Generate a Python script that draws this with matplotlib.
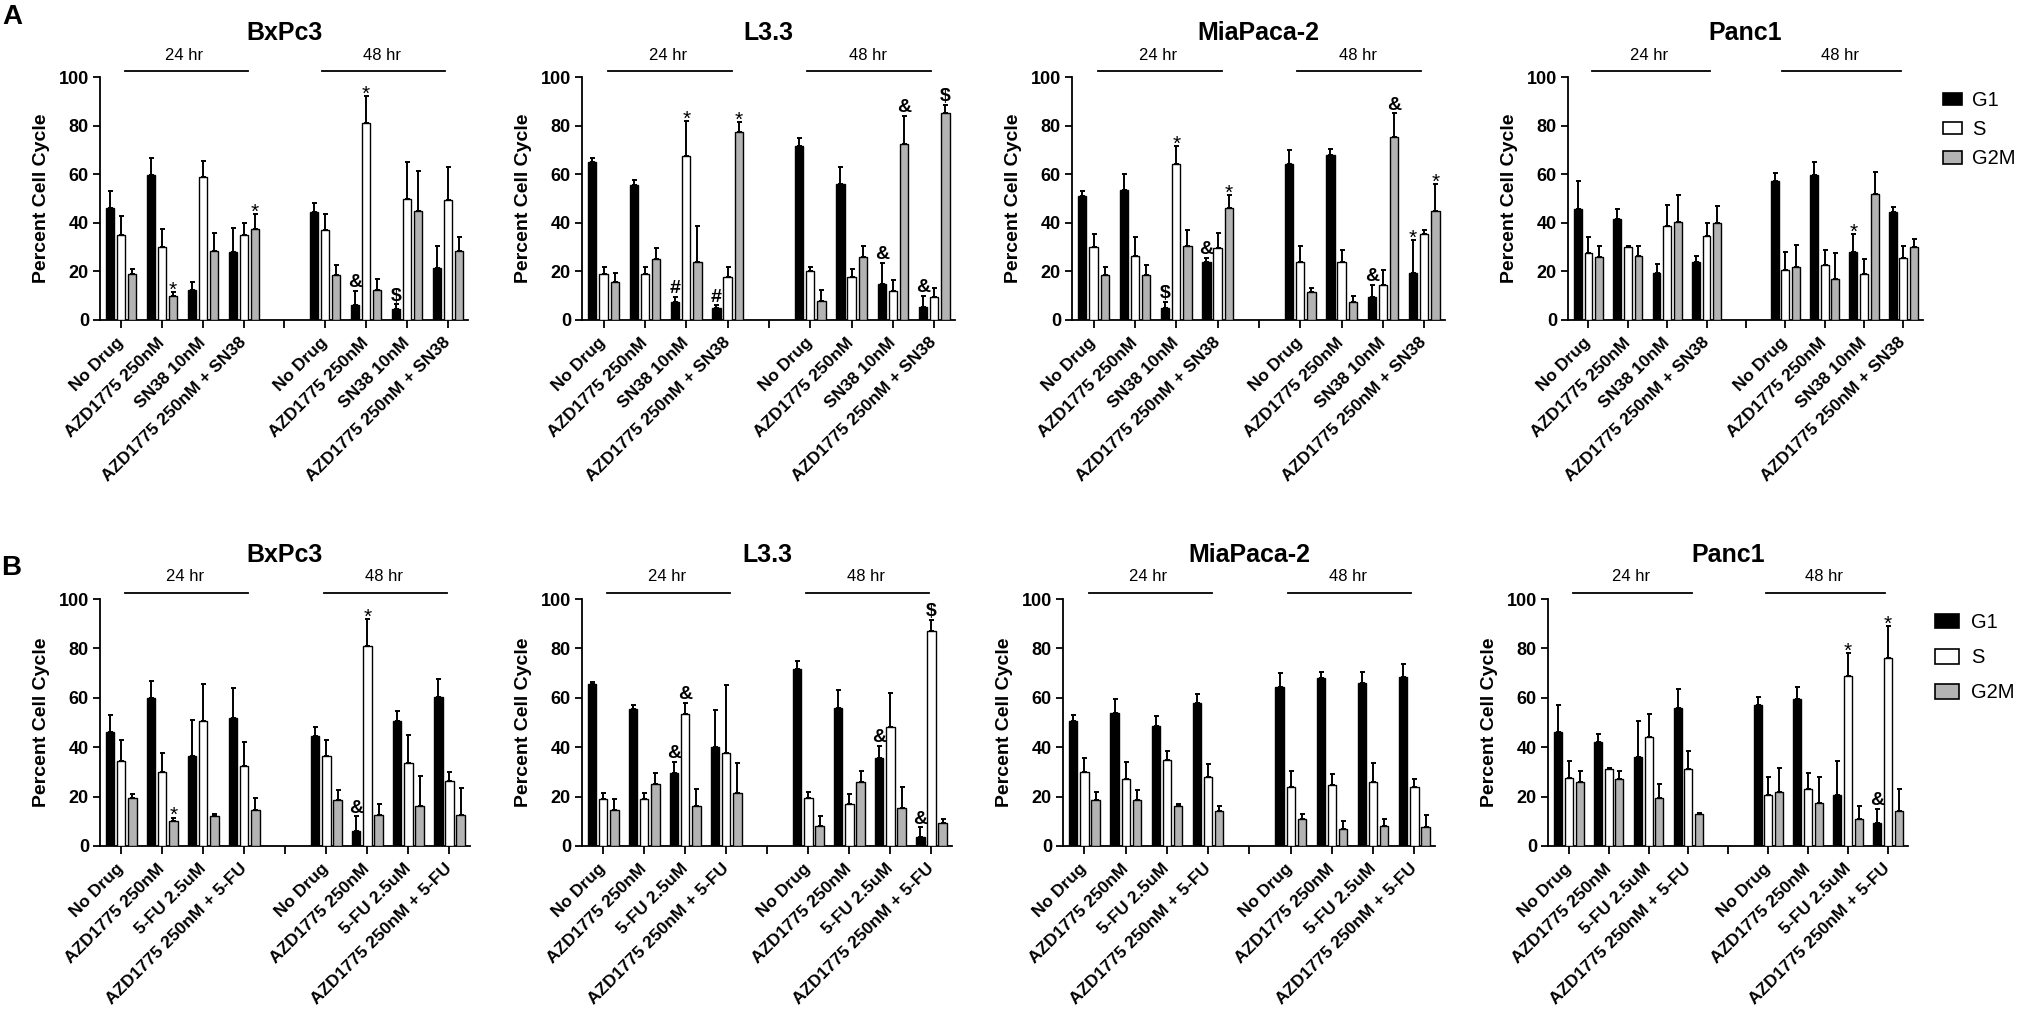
import numpy as np
import matplotlib
matplotlib.use('Agg')
import matplotlib.pyplot as plt
from matplotlib.patches import Patch

plt.rcParams['font.family'] = ['Liberation Sans', 'DejaVu Sans']

conds_a = ['No Drug', 'AZD1775 250nM', 'SN38 10nM', 'AZD1775 250nM + SN38']
conds_b = ['No Drug', 'AZD1775 250nM', '5-FU 2.5uM', 'AZD1775 250nM + 5-FU']
phases = ['G1', 'S', 'G2M']

# Panel A (SN38), 24 hr groups then 48 hr groups
bx_a_g1 = [46, 59.5, 12.5, 28, 44.5, 6, 4.5, 21.5]
bx_a_g1e = [7, 7, 3, 10, 3.5, 6, 2, 9]
bx_a_s = [35, 30, 59, 35, 37, 81, 50, 49.5]
bx_a_se = [8, 7.5, 6.5, 5, 6.5, 11, 15, 13.5]
bx_a_g2m = [19, 10, 28.5, 37.5, 18.5, 12.5, 45, 28.5]
bx_a_g2me = [2, 1.5, 7.5, 6, 4, 4.5, 16.5, 5.5]
bx_a_marks = [(1, 2, '*'), (3, 2, '*'), (5, 0, '&'), (5, 1, '*'), (6, 0, '$')]

l3_a_g1 = [65, 55.5, 7.5, 5, 71.5, 56, 15, 5.5]
l3_a_g1e = [1.5, 2, 2, 1, 3.5, 7, 8.5, 4.5]
l3_a_s = [19, 19, 67.5, 17.5, 20, 17.5, 12, 9.5]
l3_a_se = [3, 3, 14.5, 4.5, 2, 3.5, 4.5, 3.5]
l3_a_g2m = [15.5, 25, 24, 77.5, 8, 26, 72.5, 85]
l3_a_g2me = [4, 4.5, 14.5, 4, 4.5, 4.5, 11.5, 3.5]
l3_a_marks = [(2, 0, '#'), (2, 1, '*'), (3, 0, '#'), (3, 2, '*'),
              (6, 0, '&'), (6, 2, '&'), (7, 0, '&'), (7, 2, '$')]

mia_a_g1 = [51, 53.5, 5, 24, 64, 68, 9.5, 19.5]
mia_a_g1e = [2, 6.5, 2.5, 1.5, 6, 2.5, 5, 13.5]
mia_a_s = [30, 26.5, 64, 29.5, 24, 24, 14.5, 35.5]
mia_a_se = [5.5, 7.5, 7.5, 6.5, 6.5, 5, 6, 1.5]
mia_a_g2m = [18.5, 18.5, 30.5, 46, 11.5, 7.5, 75.5, 45]
mia_a_g2me = [3.5, 4, 6.5, 5.5, 1.5, 2.5, 9.5, 11]
mia_a_marks = [(2, 0, '$'), (2, 1, '*'), (3, 0, '&'), (3, 2, '*'),
               (6, 0, '&'), (6, 2, '&'), (7, 0, '*'), (7, 2, '*')]

pc_a_g1 = [45.5, 41.5, 19.5, 24, 57, 59.5, 28, 44.5]
pc_a_g1e = [11.5, 4, 3.5, 2.5, 3.5, 5.5, 7.5, 2]
pc_a_s = [27.5, 30, 38.5, 34.5, 20.5, 22.5, 19, 25.5]
pc_a_se = [6.5, 0.5, 9, 5.5, 7.5, 6.5, 6, 5]
pc_a_g2m = [26, 26.5, 40.5, 40, 22, 17, 52, 30]
pc_a_g2me = [4.5, 4, 11, 7, 9, 10.5, 9, 3.5]
pc_a_marks = [(6, 0, '*')]

# Panel B (5-FU)
bx_b_g1 = [46, 60, 36.5, 52, 44.5, 6, 50.5, 60.5]
bx_b_g1e = [7, 7, 14.5, 12, 3.5, 6, 4, 7]
bx_b_s = [34.5, 30, 50.5, 32.5, 36.5, 81, 33.5, 26.5]
bx_b_se = [8.5, 7.5, 15, 9.5, 6.5, 11, 11.5, 3.5]
bx_b_g2m = [19.5, 10, 12, 14.5, 18.5, 12.5, 16, 12.5]
bx_b_g2me = [1.5, 1.5, 1, 5, 4, 4.5, 12.5, 11]
bx_b_marks = [(1, 2, '*'), (5, 0, '&'), (5, 1, '*')]

l3_b_g1 = [65.5, 55.5, 29.5, 40, 71.5, 56, 35.5, 3.5]
l3_b_g1e = [1, 1.5, 4.5, 15, 3.5, 7, 5, 4]
l3_b_s = [19, 19, 53.5, 37.5, 19.5, 17, 48, 87]
l3_b_se = [2.5, 2.5, 4.5, 27.5, 2.5, 4, 14, 4.5]
l3_b_g2m = [14.5, 25, 16, 21.5, 8, 26, 15.5, 9.5]
l3_b_g2me = [4.5, 4.5, 7, 12, 4, 4.5, 8.5, 1.5]
l3_b_marks = [(2, 0, '&'), (2, 1, '&'), (6, 0, '&'), (7, 0, '&'), (7, 1, '$')]

mia_b_g1 = [50.5, 54, 48.5, 58, 64.5, 68, 66, 68.5]
mia_b_g1e = [2.5, 5.5, 4, 3.5, 5.5, 2.5, 4.5, 5]
mia_b_s = [30, 27, 35, 28, 24, 24.5, 26, 24]
mia_b_se = [5.5, 7, 3.5, 5, 6.5, 4.5, 7.5, 3]
mia_b_g2m = [18.5, 18.5, 16, 14, 11, 7, 8, 7.5]
mia_b_g2me = [3.5, 4, 1, 2, 2, 3, 3, 5]
mia_b_marks = []

pc_b_g1 = [46, 42, 36, 56, 57, 59.5, 20.5, 9.5]
pc_b_g1e = [11, 3.5, 14.5, 7.5, 3.5, 5, 14, 5.5]
pc_b_s = [27.5, 31, 44, 31, 20.5, 23, 69, 76]
pc_b_se = [7, 0.5, 9.5, 7.5, 7.5, 6.5, 9, 13]
pc_b_g2m = [26, 27, 19.5, 13, 22, 17.5, 11, 14]
pc_b_g2me = [4.5, 3.5, 5.5, 0.5, 9.5, 10.5, 5, 9]
pc_b_marks = [(6, 1, '*'), (7, 0, '&'), (7, 1, '*')]

pos = np.array([0, 1, 2, 3, 5, 6, 7, 8])
colors = ['black', 'white', '#b3b3b3']

W, H = 2027, 1024
fig = plt.figure(figsize=(W / 100, H / 100), dpi=100)


def make_ax(x0, x1, ytop, ybot):
    return fig.add_axes([x0 / W, 1 - ybot / H, (x1 - x0) / W, (ybot - ytop) / H])


def draw(ax, name, conds, g1, g1e, s, se, g2m, g2me, marks, wpx):
    vals = [g1, s, g2m]
    errs = [g1e, se, g2me]
    for k in range(3):
        x = pos + (k - 1) * 0.27
        ax.bar(x, vals[k], 0.2, color=colors[k], edgecolor='black', linewidth=1.0, zorder=3)
        ax.errorbar(x, vals[k], yerr=[np.zeros(8), errs[k]], fmt='none', ecolor='black',
                    elinewidth=1.4, capsize=1.8, capthick=1.4, zorder=2)
    for g, k, sym in marks:
        top = vals[k][g] + errs[k][g]
        x = pos[g] + (k - 1) * 0.27
        if sym == '*':
            ax.text(x, top - 1.5, sym, ha='center', va='baseline', fontsize=15, clip_on=False)
        else:
            ax.text(x, top + 1.5, sym, ha='center', va='baseline', fontsize=14,
                    fontweight='bold', clip_on=False)

    ax.set_xlim(-0.52, 8.5)
    ax.set_ylim(0, 100)
    ax.set_yticks([0, 20, 40, 60, 80, 100])
    ax.set_yticklabels(['0', '20', '40', '60', '80', '100'], fontsize=13, fontweight='bold')
    ax.set_xticks(range(9))
    ax.set_xticklabels(conds + [''] + conds, rotation=45, ha='right', va='center',
                       rotation_mode='anchor', fontsize=12.5, fontweight='bold')
    ax.tick_params(axis='x', length=5.5, width=1.3, pad=9)
    ax.tick_params(axis='y', length=5, width=1.3, pad=3)
    for sp in ['top', 'right']:
        ax.spines[sp].set_visible(False)
    for sp in ['left', 'bottom']:
        ax.spines[sp].set_linewidth(1.3)
    ax.set_ylabel('Percent Cell Cycle', fontsize=14, fontweight='bold')
    ax.yaxis.set_label_coords(-50 / wpx, 0.5)

    # time point brackets
    ax.plot([0.1, 3.1], [102.5, 102.5], color='black', lw=1.3, clip_on=False)
    ax.plot([4.93, 7.93], [102.5, 102.5], color='black', lw=1.3, clip_on=False)
    ax.text(1.55, 109, '24 hr', ha='center', va='center', fontsize=12, clip_on=False)
    ax.text(6.4, 109, '48 hr', ha='center', va='center', fontsize=12, clip_on=False)
    ax.text(0.5, 1.18, name, transform=ax.transAxes, ha='center', va='center',
            fontsize=18, fontweight='bold')


xa = [(100, 468), (582, 955), (1072, 1445), (1568, 1923)]
xb = [(100, 470), (582, 952), (1063, 1435), (1548, 1908)]

panels_a = [
    ('BxPc3', bx_a_g1, bx_a_g1e, bx_a_s, bx_a_se, bx_a_g2m, bx_a_g2me, bx_a_marks),
    ('L3.3', l3_a_g1, l3_a_g1e, l3_a_s, l3_a_se, l3_a_g2m, l3_a_g2me, l3_a_marks),
    ('MiaPaca-2', mia_a_g1, mia_a_g1e, mia_a_s, mia_a_se, mia_a_g2m, mia_a_g2me, mia_a_marks),
    ('Panc1', pc_a_g1, pc_a_g1e, pc_a_s, pc_a_se, pc_a_g2m, pc_a_g2me, pc_a_marks),
]
panels_b = [
    ('BxPc3', bx_b_g1, bx_b_g1e, bx_b_s, bx_b_se, bx_b_g2m, bx_b_g2me, bx_b_marks),
    ('L3.3', l3_b_g1, l3_b_g1e, l3_b_s, l3_b_se, l3_b_g2m, l3_b_g2me, l3_b_marks),
    ('MiaPaca-2', mia_b_g1, mia_b_g1e, mia_b_s, mia_b_se, mia_b_g2m, mia_b_g2me, mia_b_marks),
    ('Panc1', pc_b_g1, pc_b_g1e, pc_b_s, pc_b_se, pc_b_g2m, pc_b_g2me, pc_b_marks),
]

handles = [Patch(facecolor=c, edgecolor='black', linewidth=1.2) for c in colors]

for (x0, x1), p in zip(xa, panels_a):
    ax = make_ax(x0, x1, 77, 320)
    draw(ax, p[0], conds_a, *p[1:], wpx=x1 - x0)
ax.legend(handles, phases, loc='upper left', bbox_to_anchor=(1933 / W, 1 - 81 / H),
          bbox_transform=fig.transFigure, frameon=False, fontsize=14.5, borderpad=0,
          handlelength=0.96, handleheight=0.6, labelspacing=0.5, handletextpad=0.5)

for (x0, x1), p in zip(xb, panels_b):
    ax = make_ax(x0, x1, 599, 846)
    draw(ax, p[0], conds_b, *p[1:], wpx=x1 - x0)
ax.legend(handles, phases, loc='upper left', bbox_to_anchor=(1925 / W, 1 - 603 / H),
          bbox_transform=fig.transFigure, frameon=False, fontsize=14.5, borderpad=0,
          handlelength=1.2, handleheight=0.75, labelspacing=0.8, handletextpad=0.6)

fig.text(12 / W, 1 - 17 / H, 'A', fontsize=20, fontweight='bold', ha='center', va='center')
fig.text(11 / W, 1 - 568 / H, 'B', fontsize=20, fontweight='bold', ha='center', va='center')

fig.savefig('out.png', dpi=100)
